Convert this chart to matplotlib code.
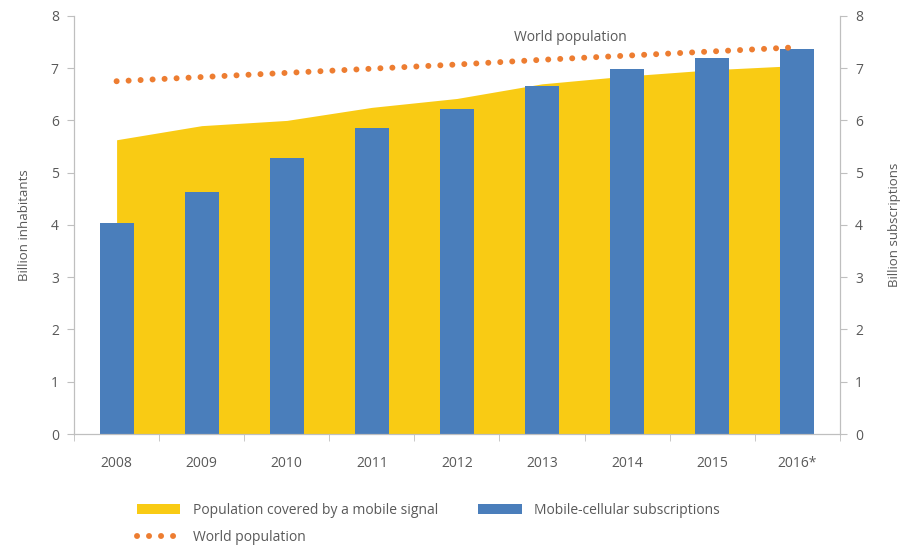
import matplotlib
matplotlib.use("Agg")
import matplotlib.pyplot as plt
from matplotlib.patches import Patch
from matplotlib.lines import Line2D
import numpy as np

plt.rcParams["font.family"] = ["Open Sans", "DejaVu Sans"]

years = ["2008", "2009", "2010", "2011", "2012", "2013", "2014", "2015", "2016*"]
coverage = [5.63, 5.90, 6.00, 6.25, 6.42, 6.70, 6.85, 6.97, 7.05]
subscriptions = [4.03, 4.63, 5.28, 5.86, 6.22, 6.66, 6.99, 7.20, 7.37]
world_pop = [6.75, 6.83, 6.91, 6.99, 7.07, 7.16, 7.24, 7.32, 7.40]

YELLOW = "#f9cb14"
BLUE = "#4a7ebb"
ORANGE = "#ed7d31"
GREY = "#bfbfbf"
TEXT = "#595959"
DOTS = (0, (0.01, 2.0))

fig = plt.figure(figsize=(9.03, 5.48), dpi=100)
ax = fig.add_axes([0.082, 0.208, 0.848, 0.763])
x = np.arange(len(years))

ax.fill_between(x, 0, coverage, color=YELLOW, lw=0, zorder=1)
ax.bar(x, subscriptions, width=0.4, color=BLUE, zorder=2)
ax.plot(x, world_pop, color=ORANGE, lw=4.3, linestyle=DOTS,
        dash_capstyle="round", zorder=3)
ax.text(5.33, 7.58, "World population", color=TEXT, fontsize=10,
        ha="center", va="center")

ax.set_xlim(-0.5, len(years) - 0.5)
ax.set_ylim(0, 8)
ax.set_xticks(x)
ax.set_xticklabels(years)
ax.set_xticks(np.arange(-0.5, len(years)), minor=True)
ax.tick_params(axis="x", which="major", length=0, pad=16, labelsize=10, labelcolor=TEXT)
ax.tick_params(axis="x", which="minor", length=5, color=GREY)
ax.tick_params(axis="y", length=5, color=GREY, labelsize=10, labelcolor=TEXT, pad=6)
ax.set_ylabel("Billion inhabitants", color=TEXT, fontsize=9.5, labelpad=14)

ax2 = ax.twinx()
ax2.set_ylim(0, 8)
ax2.tick_params(axis="y", length=5, color=GREY, labelsize=10, labelcolor=TEXT, pad=6)
ax2.set_ylabel("Billion subscriptions", color=TEXT, fontsize=9.5, labelpad=18,
               rotation=90)

for a in (ax, ax2):
    a.spines["top"].set_visible(False)
    for s in ("left", "right", "bottom"):
        a.spines[s].set_color(GREY)

handles = [
    Patch(facecolor=YELLOW, label="Population covered by a mobile signal"),
    Line2D([0], [0], color=ORANGE, lw=4.3, linestyle=DOTS,
           dash_capstyle="round", label="World population"),
    Patch(facecolor=BLUE, label="Mobile-cellular subscriptions"),
]
leg = fig.legend(handles=handles, ncol=2, loc="upper left",
                 bbox_to_anchor=(0.146, 0.093), frameon=False, fontsize=10,
                 handlelength=3.1, handleheight=0.7, columnspacing=2.9,
                 labelspacing=0.9, handletextpad=0.9, borderaxespad=0)
for t in leg.get_texts():
    t.set_color(TEXT)

fig.savefig("out.png", dpi=100)
